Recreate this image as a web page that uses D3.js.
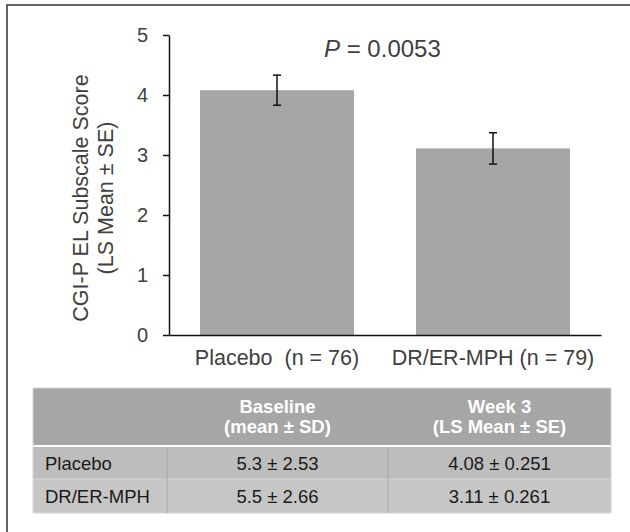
<!DOCTYPE html>
<html>
<head>
<meta charset="utf-8">
<script src="https://cdn.jsdelivr.net/npm/d3@7"></script>
<style>
  body { margin: 0; background: #fff; }
  svg { display: block; font-family: "Liberation Sans", Arial, sans-serif; }
</style>
</head>
<body>
<div id="chart"></div>
<script>
// data
var groups = ["Placebo  (n = 76)", "DR/ER-MPH (n = 79)"];
var lsMeans = [4.08, 3.11];
var stdErrs = [0.251, 0.261];
var yTicks = [0, 1, 2, 3, 4, 5];
var pValue = "0.0053";

var tableHead = [["", ""], ["Baseline", "(mean \u00b1 SD)"], ["Week 3", "(LS Mean \u00b1 SE)"]];
var rowNames = ["Placebo", "DR/ER-MPH"];
var baselineVals = ["5.3 \u00b1 2.53", "5.5 \u00b1 2.66"];
var week3Vals = ["4.08 \u00b1 0.251", "3.11 \u00b1 0.261"];

var W = 630, H = 532;
var txt = "#404040";

var svg = d3.select("#chart").append("svg")
  .attr("width", W).attr("height", H);

// outer frame (cropped on right / bottom in the original)
svg.append("rect")
  .attr("x", 7).attr("y", 5)
  .attr("width", 640).attr("height", 560)
  .attr("fill", "none").attr("stroke", "#333").attr("stroke-width", 1.5);

var y = d3.scaleLinear().domain([0, 5]).range([335, 35]);
var x = d3.scaleBand().domain(groups).range([169, 601])
  .paddingInner(0.287).paddingOuter(0.1435);

var data = groups.map(function(g, i) {
  return { g: g, m: lsMeans[i], se: stdErrs[i] };
});

// bars
svg.selectAll("rect.bar").data(data).enter()
  .append("rect").attr("class", "bar")
  .attr("x", function(d) { return x(d.g); })
  .attr("width", x.bandwidth())
  .attr("y", function(d) { return y(d.m); })
  .attr("height", function(d) { return y(0) - y(d.m); })
  .attr("fill", "#a6a6a6");

// error bars
var eb = svg.selectAll("g.err").data(data).enter().append("g")
  .attr("stroke", "#111").attr("stroke-width", 1.5);
eb.append("line")
  .attr("x1", function(d) { return x(d.g) + x.bandwidth() / 2; })
  .attr("x2", function(d) { return x(d.g) + x.bandwidth() / 2; })
  .attr("y1", function(d) { return y(d.m + d.se); })
  .attr("y2", function(d) { return y(d.m - d.se); });
[1, -1].forEach(function(s) {
  eb.append("line")
    .attr("x1", function(d) { return x(d.g) + x.bandwidth() / 2 - 4; })
    .attr("x2", function(d) { return x(d.g) + x.bandwidth() / 2 + 4; })
    .attr("y1", function(d) { return y(d.m + s * d.se); })
    .attr("y2", function(d) { return y(d.m + s * d.se); });
});

// y axis
var yAxis = svg.append("g").attr("transform", "translate(169,0)")
  .call(d3.axisLeft(y).tickValues(yTicks).tickFormat(d3.format("d"))
    .tickSize(6).tickSizeOuter(0).tickPadding(15));
yAxis.select(".domain").attr("stroke", "#111").attr("stroke-width", 1.5);
yAxis.selectAll(".tick line").attr("stroke", "#111").attr("stroke-width", 1.5);
yAxis.selectAll(".tick text").attr("fill", txt)
  .style("font-size", "20px").style("font-family", "Liberation Sans, Arial, sans-serif");

// x axis - line only, labels below
var xAxis = svg.append("g").attr("transform", "translate(0,335)")
  .call(d3.axisBottom(x).tickSize(0).tickSizeOuter(0).tickPadding(15));
xAxis.select(".domain").attr("stroke", "#111").attr("stroke-width", 1.5);
xAxis.selectAll(".tick text").attr("fill", txt)
  .style("font-size", "21.5px").style("white-space", "pre")
  .style("font-family", "Liberation Sans, Arial, sans-serif");

// y label, two lines
var yl = svg.append("text")
  .attr("transform", "translate(88,198) rotate(-90)")
  .attr("text-anchor", "middle").attr("fill", txt)
  .style("font-size", "21.5px");
yl.append("tspan").attr("x", 0).attr("dy", 0).text("CGI-P EL Subscale Score");
yl.append("tspan").attr("x", 0).attr("dy", 25).text("(LS Mean \u00b1 SE)");

// p value
var pt = svg.append("text").attr("x", 324).attr("y", 57)
  .attr("fill", txt).style("font-size", "24px");
pt.append("tspan").style("font-style", "italic").text("P");
pt.append("tspan").text(" = " + pValue);

// ---- table under the chart ----
var colX = [33, 167, 388, 611];
var rowY = [388, 446, 479, 513];
var rowFill = ["#bdbdbd", "#c6c6c6"];

svg.append("rect").attr("x", colX[0]).attr("y", rowY[0])
  .attr("width", colX[3] - colX[0]).attr("height", rowY[1] - rowY[0])
  .attr("fill", "#a6a6a6");

var rows = rowNames.map(function(n, i) { return [n, baselineVals[i], week3Vals[i]]; });

rows.forEach(function(r, i) {
  svg.append("rect").attr("x", colX[0]).attr("y", rowY[i + 1])
    .attr("width", colX[3] - colX[0]).attr("height", rowY[i + 2] - rowY[i + 1])
    .attr("fill", rowFill[i]);
});

// grid lines
rowY.slice(2).forEach(function(yy) {
  svg.append("line").attr("x1", colX[0]).attr("x2", colX[3])
    .attr("y1", yy).attr("y2", yy).attr("stroke", "#d4d4d4").attr("stroke-width", 1);
});
svg.append("line").attr("x1", colX[0]).attr("x2", colX[3])
  .attr("y1", rowY[1]).attr("y2", rowY[1]).attr("stroke", "#fff").attr("stroke-width", 2);
svg.append("line").attr("x1", colX[0]).attr("x2", colX[3])
  .attr("y1", rowY[0]).attr("y2", rowY[0]).attr("stroke", "#d8d8d8").attr("stroke-width", 1);
colX.forEach(function(xx, j) {
  svg.append("line").attr("x1", xx).attr("x2", xx)
    .attr("y1", j == 0 || j == 3 ? rowY[0] : rowY[1] + 1).attr("y2", rowY[3])
    .attr("stroke", j == 0 || j == 3 ? "#d4d4d4" : "#a9a9a9").attr("stroke-width", 1);
});

// header text
tableHead.forEach(function(h, j) {
  if (!h[0]) return;
  var cx = (colX[j] + colX[j + 1]) / 2;
  var t = svg.append("text").attr("text-anchor", "middle").attr("fill", "#fff")
    .style("font-size", "18.5px").style("font-weight", "bold");
  t.append("tspan").attr("x", cx).attr("y", 413).text(h[0]);
  t.append("tspan").attr("x", cx).attr("y", 433).text(h[1]);
});

// body text
rows.forEach(function(r, i) {
  var by = rowY[i + 1] + 23.5;
  r.forEach(function(v, j) {
    var t = svg.append("text").attr("y", by).attr("fill", "#1a1a1a")
      .style("font-size", "18.5px").text(v);
    if (j == 0) t.attr("x", colX[0] + 12);
    else t.attr("x", (colX[j] + colX[j + 1]) / 2).attr("text-anchor", "middle");
  });
});
</script>
</body>
</html>
